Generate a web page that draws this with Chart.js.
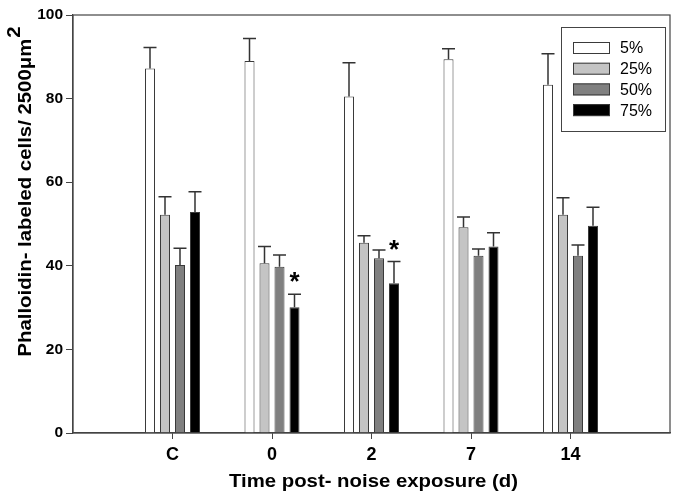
<!DOCTYPE html>
<html>
<head>
<meta charset="utf-8">
<script src="https://cdn.jsdelivr.net/npm/chart.js@4"></script>
<style>
  html, body { margin: 0; padding: 0; background: #fff; }
  #wrap { width: 679px; height: 500px; }
</style>
</head>
<body>
<div id="wrap"><canvas id="phChart" width="679" height="500"></canvas></div>
<script>
var categories = ['C', '0', '2', '7', '14'];
var seriesNames = ['5%', '25%', '50%', '75%'];
var pct5  = [87.2, 89.0, 80.5, 89.4, 83.3];
var pct25 = [52.2, 40.6, 45.5, 49.2, 52.2];
var pct50 = [40.2, 39.8, 41.8, 42.4, 42.4];
var pct75 = [52.9, 30.1, 35.8, 44.6, 49.6];
var err5  = [5.0, 5.4, 8.1, 2.5, 7.4];
var err25 = [4.3, 4.0, 1.7, 2.5, 4.1];
var err50 = [4.0, 2.8, 2.0, 1.6, 2.6];
var err75 = [4.8, 3.1, 5.2, 3.3, 4.4];
var yTicks = [0, 20, 40, 60, 80, 100];
// significance marks: [series index, category index]
var stars = [[3, 1], [3, 2]];

var fills = ['#ffffff', '#c4c4c4', '#808080', '#000000'];
var FONT = 'Arial, "Liberation Sans", sans-serif';

// pad with an empty slot each side so the groups sit like the original
function pad(arr) { return [null].concat(arr).concat([null]); }
var labels = [''].concat(categories).concat(['']);
var values = [pct5, pct25, pct50, pct75];
var errors = [err5, err25, err50, err75];

var datasets = values.map(function (v, i) {
  return {
    label: seriesNames[i],
    data: pad(v),
    errs: pad(errors[i]),
    backgroundColor: fills[i],
    borderColor: '#3a3a3a',
    borderWidth: 1,
    borderSkipped: 'bottom',
    categoryPercentage: 0.603,
    barPercentage: 0.667
  };
});

// wide bold text like the original
function wideText(c, txt, x, y, size, stretch) {
  c.save();
  c.translate(x, y);
  c.scale(stretch, 1);
  c.font = 'bold ' + size + 'px ' + FONT;
  c.fillText(txt, 0, 0);
  c.restore();
}

var extras = {
  id: 'extras',
  afterDatasetsDraw: function (chart) {
    var c = chart.ctx, y = chart.scales.y, a = chart.chartArea;
    c.save();
    // error bars (upper only)
    c.strokeStyle = '#333';
    c.lineWidth = 1.5;
    chart.data.datasets.forEach(function (ds, di) {
      var meta = chart.getDatasetMeta(di);
      meta.data.forEach(function (el, j) {
        if (ds.data[j] == null) return;
        var top = y.getPixelForValue(ds.data[j] + ds.errs[j]);
        c.beginPath();
        c.moveTo(el.x, el.y);
        c.lineTo(el.x, top);
        c.moveTo(el.x - 6.5, top);
        c.lineTo(el.x + 6.5, top);
        c.stroke();
      });
    });
    // stars
    c.fillStyle = '#000';
    c.font = 'bold 26px ' + FONT;
    c.textAlign = 'center';
    c.textBaseline = 'middle';
    stars.forEach(function (s) {
      var ds = chart.data.datasets[s[0]];
      var k = s[1] + 1;
      var el = chart.getDatasetMeta(s[0]).data[k];
      var top = y.getPixelForValue(ds.data[k] + ds.errs[k]);
      c.fillText('*', el.x, top - 11);
    });
    // frame
    c.strokeStyle = '#444';
    c.lineWidth = 1.2;
    c.strokeRect(a.left, a.top, a.right - a.left, a.bottom - a.top);
    // legend
    var lx = 561, ly = 27;
    c.lineWidth = 1;
    c.strokeRect(lx + 0.5, ly + 0.5, 104, 104);
    c.font = '16px ' + FONT;
    c.textAlign = 'left';
    seriesNames.forEach(function (n, i) {
      var cy = 48 + i * 20.7;
      c.fillStyle = fills[i];
      c.fillRect(573, cy - 6, 37, 12);
      c.strokeStyle = '#3a3a3a';
      c.strokeRect(573.5, cy - 5.5, 36, 11);
      c.fillStyle = '#000';
      c.fillText(n, 620, cy + 1);
    });
    // x title
    c.fillStyle = '#000';
    c.textAlign = 'center';
    c.textBaseline = 'alphabetic';
    wideText(c, 'Time post- noise exposure (d)', (a.left + a.right) / 2 + 2, 487, 18.5, 1.1);
    // y title with superscript
    c.save();
    c.translate(31, 192);
    c.rotate(-Math.PI / 2);
    c.scale(1.1, 1);
    c.font = 'bold 18.5px ' + FONT;
    var main = 'Phalloidin- labeled cells/ 2500\u03bcm';
    var w = c.measureText(main).width;
    var w2 = c.measureText('2').width;
    var x0 = -(w + w2) / 2;
    c.textAlign = 'left';
    c.textBaseline = 'alphabetic';
    c.fillText(main, x0, 0);
    c.fillText('2', x0 + w + 1, -11);
    c.restore();
    c.restore();
  }
};

new Chart(document.getElementById('phChart').getContext('2d'), {
  type: 'bar',
  data: { labels: labels, datasets: datasets },
  plugins: [extras],
  options: {
    responsive: false,
    animation: false,
    layout: { padding: { top: 15, right: 9, left: 0, bottom: 0 } },
    plugins: {
      legend: { display: false },
      tooltip: { enabled: false },
      title: { display: false }
    },
    scales: {
      x: {
        offset: false,
        grid: {
          offset: false,
          drawOnChartArea: false,
          tickLength: 6,
          color: function (ctx) { return ctx.tick && ctx.tick.label === '' ? 'rgba(0,0,0,0)' : '#444'; }
        },
        border: { color: '#444', width: 1.2 },
        ticks: {
          color: '#000',
          font: { family: FONT, size: 18, weight: 'bold' },
          padding: 5,
          maxRotation: 0,
          autoSkip: false
        },
        afterFit: function (s) { s.height = 67; }
      },
      y: {
        min: 0,
        max: 100,
        grid: { drawOnChartArea: false, tickLength: 7, color: '#444' },
        border: { color: '#444', width: 1.2 },
        afterBuildTicks: function (s) { s.ticks = yTicks.map(function (v) { return { value: v }; }); },
        ticks: {
          color: '#000',
          font: { family: FONT, size: 15.5, weight: 'bold' },
          padding: 3
        },
        afterFit: function (s) { s.width = 73; }
      }
    }
  }
});
</script>
</body>
</html>
